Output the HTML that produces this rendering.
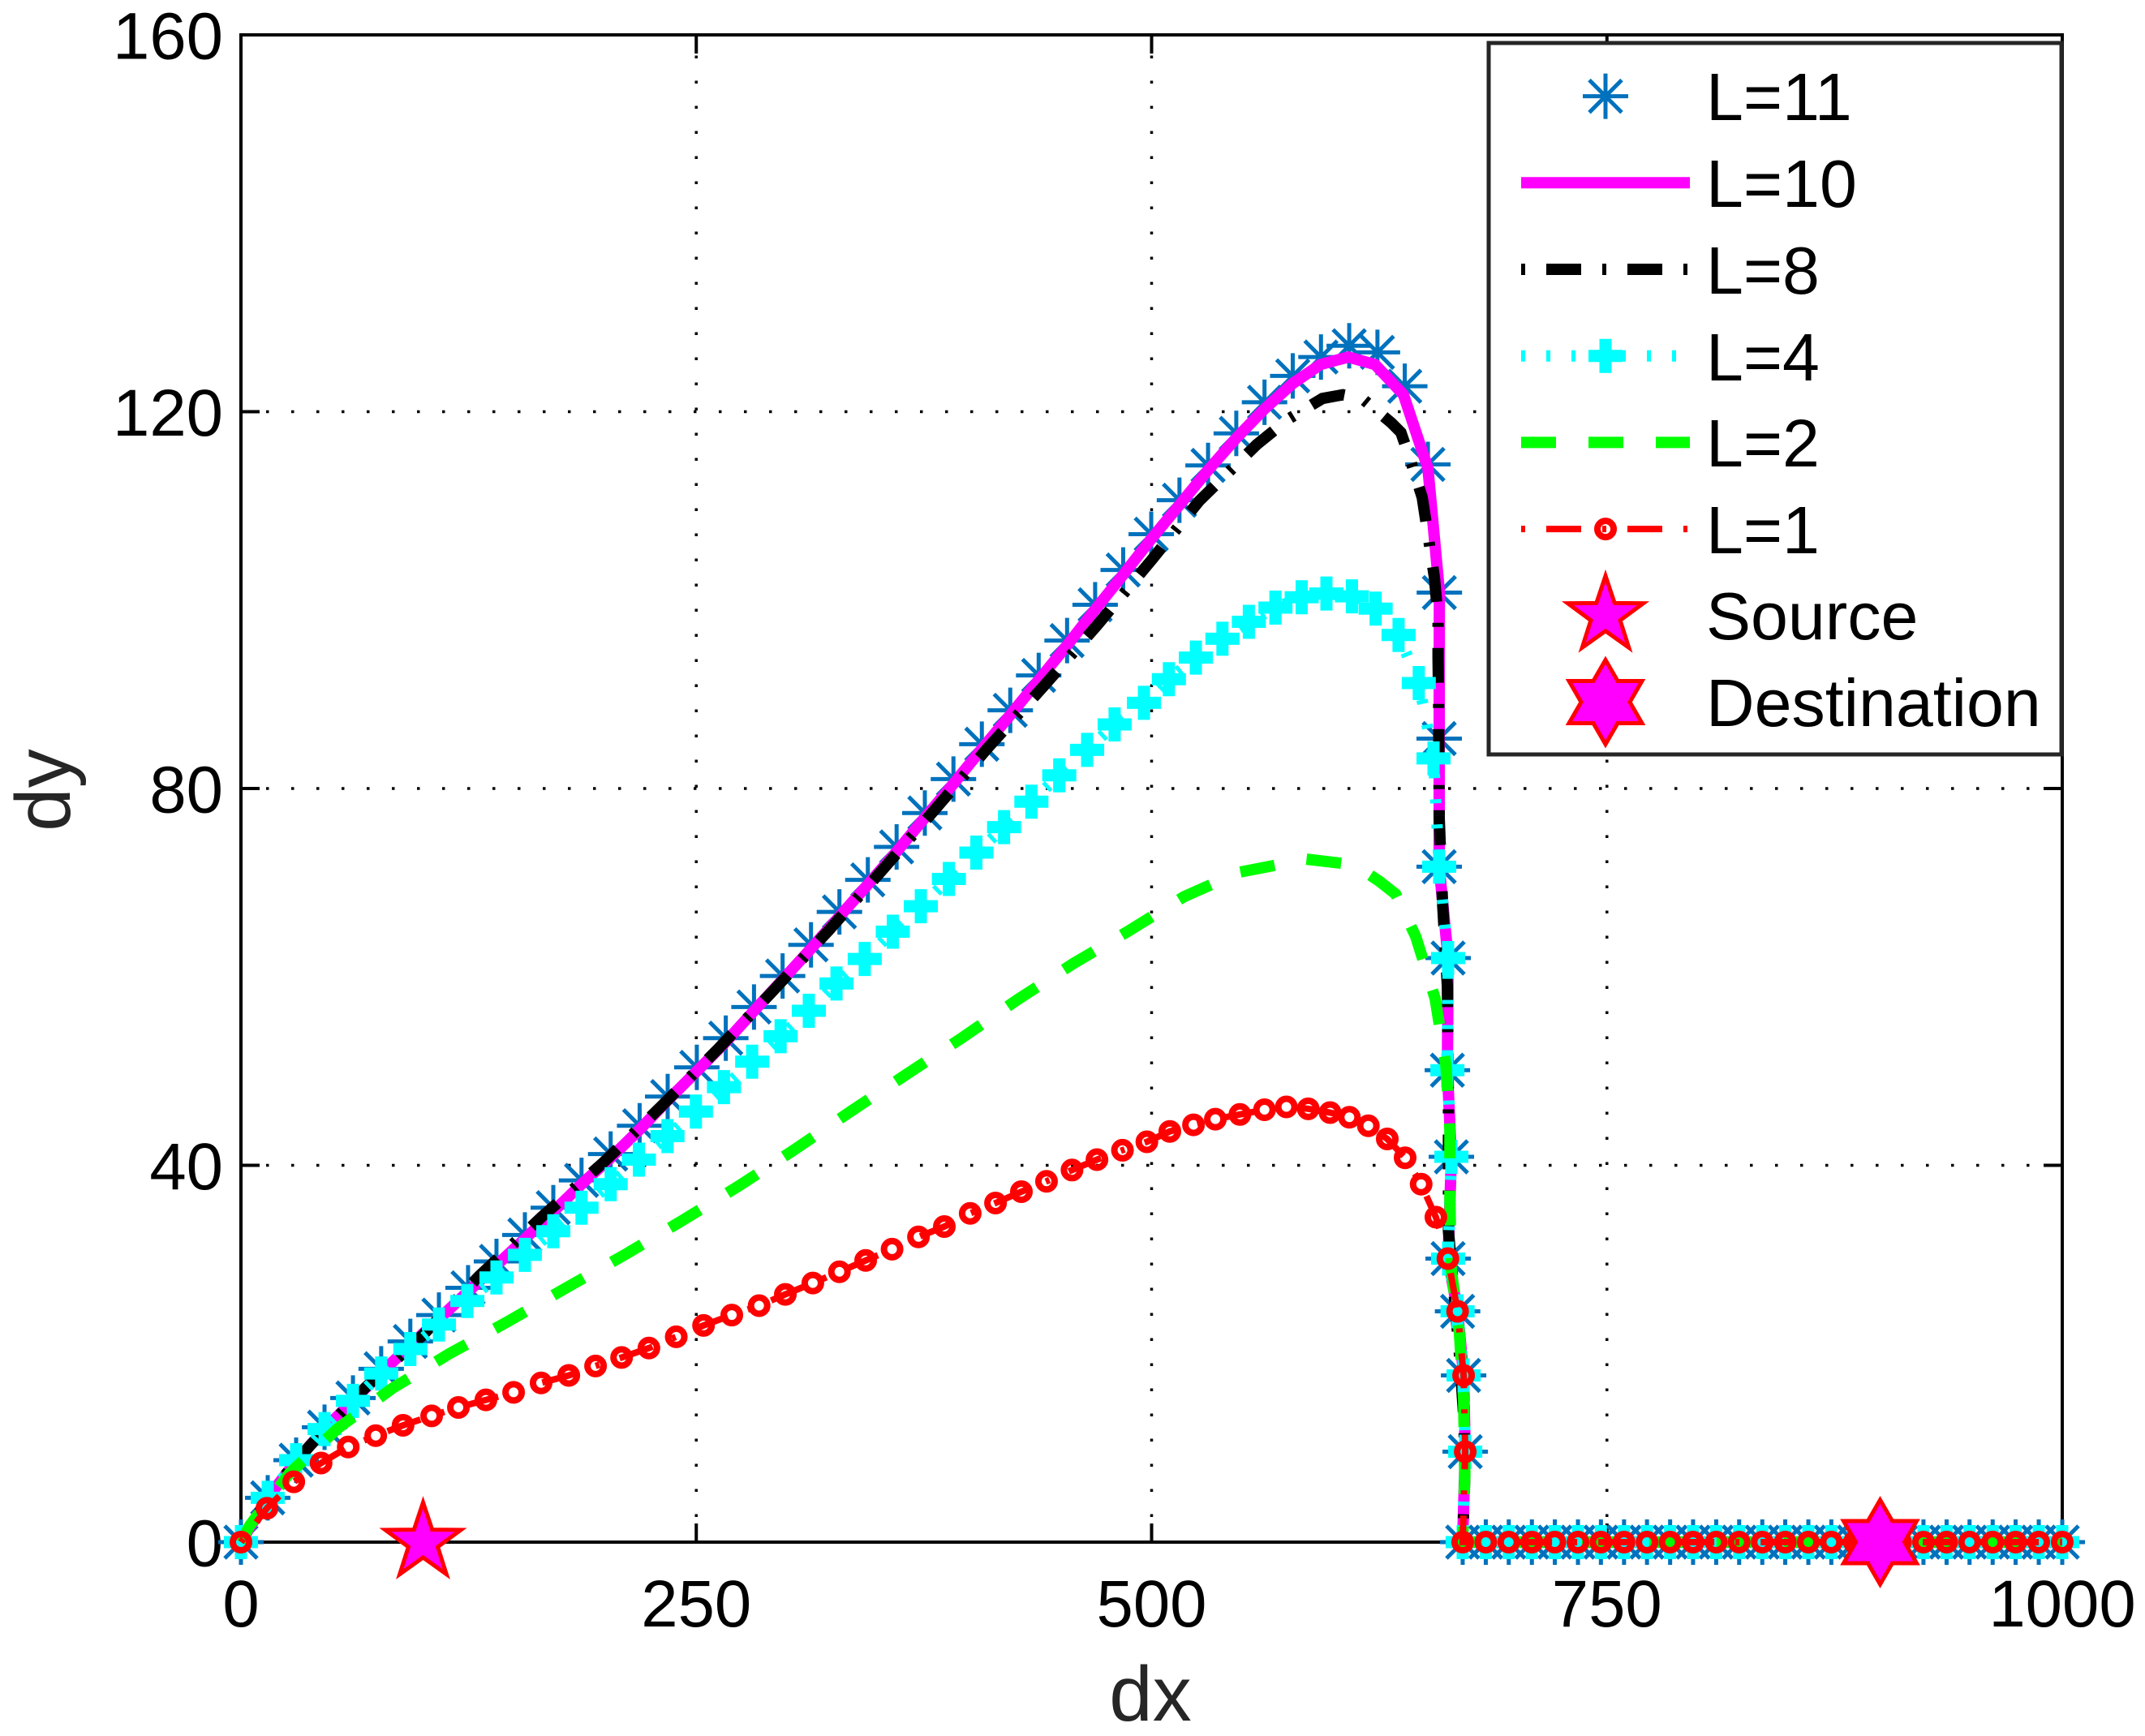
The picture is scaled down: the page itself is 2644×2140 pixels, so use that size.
<!DOCTYPE html>
<html lang="en">
<head>
<meta charset="utf-8">
<title>dx vs dy trajectories</title>
<style>
html,body{margin:0;padding:0;background:#fff;}
svg{display:block;font-family:"Liberation Sans",Arial,sans-serif;}
</style>
</head>
<body>
<svg id="chart" xmlns="http://www.w3.org/2000/svg" width="2644" height="2140" viewBox="0 0 2644 2140">
  <rect x="0" y="0" width="2644" height="2140" fill="#fff"/>
  <g id="grid"></g>
  <g id="ticks"></g>
  <rect x="297" y="43" width="2245" height="1858" fill="none" stroke="#000" stroke-width="4"/>
  <g id="labels" font-size="81.5" fill="#000"></g>
  <g id="series"></g>
  <text x="1418" y="2121" font-size="96" text-anchor="middle" fill="#262626">dx</text>
  <text transform="translate(86 974) rotate(-90)" font-size="96" text-anchor="middle" fill="#262626">dy</text>

  <g id="legend">
    <rect x="1835" y="53" width="706" height="877" fill="#fff" stroke="#262626" stroke-width="5"/>
    <g><g id="lg11"></g><text x="2103" y="148" font-size="82.5">L=11</text></g>
    <g><line x1="1875" x2="2083" y1="225.3" y2="225.3" stroke="#f0f" stroke-width="14"/><text x="2103" y="255" font-size="82.5">L=10</text></g>
    <g><line x1="1875" x2="2083" y1="332" y2="332" stroke="#000" stroke-width="14" stroke-dasharray="5 26 43 26"/><text x="2103" y="362" font-size="82.5">L=8</text></g>
    <g><line x1="1875" x2="2083" y1="438.7" y2="438.7" stroke="#0ff" stroke-width="14" stroke-dasharray="5 26"/><g id="lg4"></g><text x="2103" y="469" font-size="82.5">L=4</text></g>
    <g><line x1="1875" x2="2083" y1="545.4" y2="545.4" stroke="#0f0" stroke-width="14" stroke-dasharray="43 40"/><text x="2103" y="575" font-size="82.5">L=2</text></g>
    <g><line x1="1875" x2="2083" y1="652.1" y2="652.1" stroke="#f00" stroke-width="8" stroke-dasharray="5 26 43 26"/><g id="lg1"></g><text x="2103" y="682" font-size="82.5">L=1</text></g>
    <g><g id="lgS"></g><text x="2103" y="788" font-size="82.5">Source</text></g>
    <g><g id="lgD"></g><text x="2103" y="895" font-size="82.5">Destination</text></g>
  </g>
</svg>

<script>
// Axis tick values
const xTicks = [0, 250, 500, 750, 1000];
const yTicks = [0, 40, 80, 120, 160];
const xTickLabels = ["0", "250", "500", "750", "1000"];
const yTickLabels = ["0", "40", "80", "120", "160"];

// Shared flat tail of every series (dy = 0 after the turn-around)
const tailDx = [683.5,696.1,708.8,721.4,734.1,746.7,759.4,772,784.7,797.3,810,822.6,835.3,847.9,860.6,873.2,885.9,898.5,911.2,923.8,936.5,949.1,961.8,974.4,987.1,1000];
const tailDy = [0,0,0,0,0,0,0,0,0,0,0,0,0,0,0,0,0,0,0,0,0,0,0,0,0,0];

// L=11
const l11Dx = [0,14.7,30.3,45.9,61.5,77,93,108.7,124.7,140.3,155.9,171.5,187,203,218.9,234.3,250.3,266.2,281.7,297.4,313,328.6,344.2,360,375.5,391.2,406.8,422.4,438,453.6,469,484.4,499.8,515.3,531,546.5,562,577.5,593,608.5,624,639,651.7,658,657.9,657.9,662.8,662.4,664.6,662.8,668,671.3,672.2,670.8];
const l11Dy = [0,4.7,8.7,12.2,15.3,18.4,21.3,24.1,27,29.8,32.6,35.5,38.4,41.2,44.2,47.3,50.4,53.5,56.8,60.1,63.4,66.9,70.3,73.8,77.4,81,84.7,88.3,92,95.7,99.5,103.2,107,110.6,114.3,117.7,121,123.8,125.8,127,126.3,122.7,114.4,100.8,85.3,71.7,62,50.1,40.9,30.1,24.5,17.7,9.6,0];

// L=10
const l10Dx = [0,14.7,30.3,45.9,61.5,77,93,108.7,124.7,140.3,155.9,171.5,187,203,218.9,234.3,250.3,266.2,281.7,297.4,313,328.6,344.2,360,375.5,391.2,406.8,422.4,438,453.6,469,484.4,499.8,515.3,531,546.5,562,577.5,592.7,608,622.7,638.3,651.7,658,657.9,657.9,662.8,662.4,664.6,662.8,668,671.3,672.2,670.8];
const l10Dy = [0,4.7,8.6,12,15,18,20.9,23.7,26.6,29.4,32.2,35.1,38,40.8,43.8,46.9,50,53.1,56.4,59.7,63,66.4,69.8,73.3,76.9,80.5,84.2,87.8,91.5,95.2,99,102.7,106.5,110.1,113.8,117.2,120.3,123,125,125.8,125,121.8,114,100.9,85.3,71.7,62,50.1,40.9,30.1,24.5,17.7,9.6,0];

// L=8
const l8Dx = [0,6.9,15,37.7,68.3,99.4,130.6,165,199,231,262.2,292.5,323,352.4,381.6,410,440,470,500.2,526,557.7,574.9,593.8,605,615.6,631.7,636.9,642,648.6,652,655.3,657.3,657.3,657.6,657.9,659.7,662.4,663,663,666,669,671.5,672,670.8];
const l8Dy = [0,2,5,10.2,16.4,21.9,28.2,34.5,40.3,46.3,52.4,58.6,65,71.4,77.9,84.3,90.7,97.3,104.3,110.5,116.5,119.2,121.4,121.8,121.4,118.8,117.8,114.9,110.9,106.6,102.4,98.1,93.8,89.5,76.9,68.1,59,46,33,26.5,20,13,7,0];

// L=4
const l4Dx = [0,14.7,30.3,45.9,61.5,77,93,108.7,124.3,140.3,155.9,171.5,187,203,218.5,234.2,249.8,265.2,280.7,296.3,311.8,327,342.5,357.9,373.3,388.7,403.8,419,434,449.3,464.6,479.7,495.8,509.5,524.3,538.9,553.4,568,582.4,596,610,623,635.6,646.7,654.8,657.9,662.8,662.4,664.6,662.8,668,671.3,672.2,670.8];
const l4Dy = [0,4.7,8.7,12,15,17.9,20.5,23.1,25.6,28.1,30.5,33,35.5,38,40.6,43.1,45.7,48.3,51,53.7,56.4,59.3,61.9,64.8,67.5,70.4,73.2,75.9,78.6,81.4,84.1,86.8,89.1,91.6,93.9,95.9,97.7,99.2,100.3,100.7,100.4,99.1,96.3,91.2,83.2,71.7,62,50.1,40.9,30.1,24.5,17.7,9.6,0];

// L=2
const l2Dx = [0,5,26.6,53.3,82.9,114.4,146.4,178.6,210.7,242,273.3,304.2,334.6,365,395.7,426.5,456.9,487.6,517.7,547.7,585,611.6,624.7,634,645,655.7,661.6,663.8,663.8,664.5,669,671.3,672,670.8];
const l2Dy = [0,1.8,7.3,12.1,16.3,20,23.4,27,30.5,34.1,37.8,41.7,45.7,49.6,53.5,57.6,61.4,64.9,68.5,71.1,72.5,71.9,70.2,68.8,64.3,57.7,50.6,43.7,36.4,29,22.2,15.2,7.3,0];

// L=1
const l1Dx = [0,14.3,29,44,58.9,74,89,104.7,119.4,134.5,149.7,164.8,180,194.7,209,224,239,254,269.5,284.5,298.9,314,328.6,343,357.5,372,386.2,400.4,414.3,428.5,442.3,456.3,470,484,497.4,510,523,535,548.5,562,574,586,598,608.6,619,629.4,639.2,648,656.1,662.7,668,671.3,672.2,670.8];
const l1Dy = [0,3.6,6.4,8.4,10.1,11.3,12.4,13.4,14.3,15.1,15.9,16.9,17.7,18.7,19.6,20.6,21.8,23,24.1,25.1,26.3,27.5,28.7,29.9,31.1,32.4,33.5,34.9,36,37.2,38.3,39.5,40.6,41.6,42.5,43.6,44.3,44.9,45.4,45.9,46.2,46,45.6,45.1,44.2,42.8,40.8,38,34.5,30.1,24.5,17.7,9.6,0];

// Source and destination positions
const sourcePoint = [100, 0];
const destinationPoint = [900, 0];

// Axis functions
const plotLeft = 297, plotRight = 2542, plotTop = 43, plotBottom = 1901;
function xAxis(v) { return plotLeft + v / 1000 * (plotRight - plotLeft); }
function yAxis(v) { return plotBottom - v / 160 * (plotBottom - plotTop); }

const NS = 'http://www.w3.org/2000/svg';
function mk(parent, tag, attrs) {
  const el = document.createElementNS(NS, tag);
  for (const k in attrs) el.setAttribute(k, attrs[k]);
  parent.appendChild(el);
  return el;
}

// Grid, ticks, tick labels
const gridG = document.getElementById('grid');
const ticksG = document.getElementById('ticks');
const labelsG = document.getElementById('labels');
const dotted = {stroke:'#000','stroke-width':3.5,'stroke-dasharray':'3.5 27.5',fill:'none'};

xTicks.forEach(function (t, i) {
  const x = xAxis(t);
  if (t > 0 && t < 1000) {
    const g = mk(gridG, 'line', Object.assign({x1:x, x2:x, y1:plotBottom, y2:plotTop}, dotted));
    
    
  }
  const a = mk(ticksG, 'line', {x1:x, x2:x, y1:plotBottom, y2:plotBottom - 23, stroke:'#000', 'stroke-width':4});
  
  
  const b = mk(ticksG, 'line', {x1:x, x2:x, y1:plotTop, y2:plotTop + 23, stroke:'#000', 'stroke-width':4});
  
  
  const l = mk(labelsG, 'text', {x:x, y:2005, 'text-anchor':'middle'});
  l.textContent = xTickLabels[i];
  
  
});

yTicks.forEach(function (t, i) {
  const y = yAxis(t);
  if (t > 0 && t < 160) {
    const g = mk(gridG, 'line', Object.assign({x1:plotLeft, x2:plotRight, y1:y, y2:y}, dotted));
    
    
  }
  const a = mk(ticksG, 'line', {x1:plotLeft, x2:plotLeft + 23, y1:y, y2:y, stroke:'#000', 'stroke-width':4});
  
  
  const b = mk(ticksG, 'line', {x1:plotRight, x2:plotRight - 23, y1:y, y2:y, stroke:'#000', 'stroke-width':4});
  
  
  const l = mk(labelsG, 'text', {x:275, y:y + 29.5, 'text-anchor':'end'});
  l.textContent = yTickLabels[i];
  
  
});

// Marker drawing
function drawAsterisk(p, cx, cy) {
  const R = 28, d = 20;
  const s = 'M' + (cx - R) + ' ' + cy + 'H' + (cx + R) + 'M' + cx + ' ' + (cy - R) + 'V' + (cy + R) +
    'M' + (cx - d) + ' ' + (cy - d) + 'L' + (cx + d) + ' ' + (cy + d) +
    'M' + (cx - d) + ' ' + (cy + d) + 'L' + (cx + d) + ' ' + (cy - d);
  return mk(p, 'path', {d:s, stroke:'#0072bd', 'stroke-width':5, fill:'none'});
}
function drawPlus(p, cx, cy) {
  const R = 21;
  const s = 'M' + (cx - R) + ' ' + cy + 'H' + (cx + R) + 'M' + cx + ' ' + (cy - R) + 'V' + (cy + R);
  return mk(p, 'path', {d:s, stroke:'#0ff', 'stroke-width':15, fill:'none'});
}
function drawCircle(p, cx, cy) {
  return mk(p, 'circle', {cx:cx, cy:cy, r:10, stroke:'#f00', 'stroke-width':8, fill:'none'});
}
function starPoints(cx, cy, n, R, r) {
  const pts = [];
  for (let i = 0; i < n * 2; i++) {
    const a = -Math.PI / 2 + i * Math.PI / n;
    const q = i % 2 ? r : R;
    pts.push((cx + q * Math.cos(a)).toFixed(1) + ',' + (cy + q * Math.sin(a)).toFixed(1));
  }
  return pts.join(' ');
}
function drawStar(p, cx, cy, n, R, r) {
  return mk(p, 'polygon', {points:starPoints(cx, cy, n, R, r), fill:'#f0f', stroke:'#f00', 'stroke-width':5});
}
function pathFrom(dx, dy) {
  const xs = dx.concat(tailDx), ys = dy.concat(tailDy);
  return xs.map(function (v, i) { return (i ? 'L' : 'M') + xAxis(v).toFixed(1) + ' ' + yAxis(ys[i]).toFixed(1); }).join('');
}
function plotLine(p, dx, dy, color, width, dash) {
  const attrs = {d:pathFrom(dx, dy), fill:'none', stroke:color, 'stroke-width':width, 'stroke-linejoin':'miter'};
  if (dash) attrs['stroke-dasharray'] = dash;
  return mk(p, 'path', attrs);
}
function plotMarkers(p, dx, dy, fn) {
  const xs = dx.concat(tailDx), ys = dy.concat(tailDy);
  xs.forEach(function (v, i) {
    const m = fn(p, xAxis(v), yAxis(ys[i]));
    
    
  });
}
function seriesGroup(name) {
  const g = mk(document.getElementById('series'), 'g', {});
  
  
  return g;
}

// L=11 markers only
const g11 = seriesGroup('series-l11');
plotMarkers(g11, l11Dx, l11Dy, drawAsterisk);

// L=10 solid
const g10 = seriesGroup('series-l10');
const line10 = plotLine(g10, l10Dx, l10Dy, '#f0f', 14);



// L=8 dash-dot
const g8 = seriesGroup('series-l8');
const line8 = plotLine(g8, l8Dx, l8Dy, '#000', 14, '5 26 43 26');



// L=4 dotted with plus markers
const g4 = seriesGroup('series-l4');
const line4 = plotLine(g4, l4Dx, l4Dy, '#0ff', 14, '5 26');


plotMarkers(g4, l4Dx, l4Dy, drawPlus);

// L=2 dashed
const g2 = seriesGroup('series-l2');
const line2 = plotLine(g2, l2Dx, l2Dy, '#0f0', 14, '43 40');



// L=1 dash-dot with circle markers
const g1 = seriesGroup('series-l1');
const line1 = plotLine(g1, l1Dx, l1Dy, '#f00', 8, '5 26 43 26');


plotMarkers(g1, l1Dx, l1Dy, drawCircle);

// Source / destination stars
const gs = seriesGroup('source-destination-markers');
const srcStar = drawStar(gs, xAxis(sourcePoint[0]), yAxis(sourcePoint[1]), 5, 49, 19);


const dstStar = drawStar(gs, xAxis(destinationPoint[0]), yAxis(destinationPoint[1]), 6, 52, 30);



// Legend glyphs
const lgA = drawAsterisk(document.getElementById('lg11'), 1979, 118.6);


const lgP = drawPlus(document.getElementById('lg4'), 1979, 438.7);


const lgC = drawCircle(document.getElementById('lg1'), 1979, 652.1);


const lgS = drawStar(document.getElementById('lgS'), 1979, 758.8, 5, 49, 19);


const lgD = drawStar(document.getElementById('lgD'), 1979, 865.5, 6, 52, 30);


</script>
</body>
</html>
